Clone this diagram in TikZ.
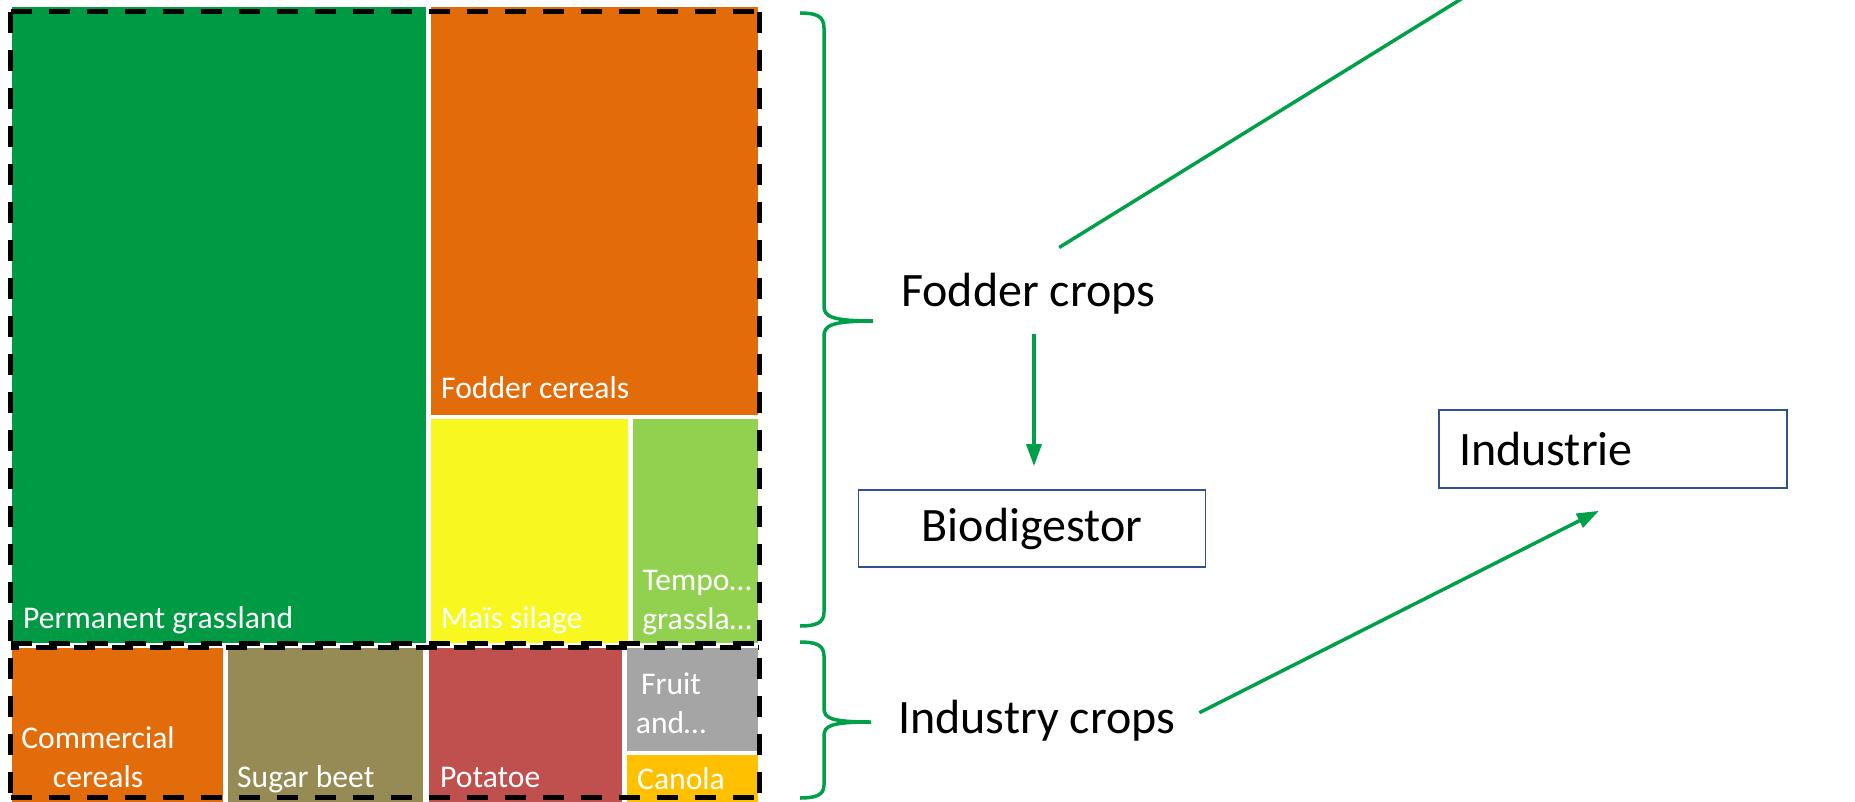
\documentclass[tikz,border=0pt]{standalone}
\usepackage{fontspec}
\setmainfont{Carlito}
\usetikzlibrary{arrows.meta}
\definecolor{cGrass}{RGB}{0,154,68}
\definecolor{cOrange}{RGB}{227,108,10}
\definecolor{cYellow}{RGB}{248,248,32}
\definecolor{cLight}{RGB}{146,208,80}
\definecolor{cOlive}{RGB}{150,139,85}
\definecolor{cRed}{RGB}{192,80,77}
\definecolor{cGrey}{RGB}{165,165,165}
\definecolor{cCanola}{RGB}{255,192,0}
\definecolor{cConn}{RGB}{0,160,72}
\definecolor{cBox}{RGB}{47,82,143}
\tikzset{
  celltext/.style={text=white, inner sep=0pt, font=\fontsize{31.6}{38.5}\selectfont, align=center},
  bigtext/.style={text=black, inner sep=0pt, font=\fontsize{48}{56}\selectfont},
  boxnode/.style={draw=cBox, line width=1.6pt, fill=white, inner sep=0pt, font=\fontsize{48}{56}\selectfont},
  dashline/.style={draw=black, line width=5pt, dash pattern=on 21pt off 17pt},
  conn/.style={draw=cConn, line width=3.5pt},
  arr/.style={conn, -{Triangle[length=22pt,width=15pt]}},
  brace/.style={draw=cConn, line width=3.5pt}
}
\begin{document}
\begin{tikzpicture}[x=1pt,y=-1pt]
\useasboundingbox (0,0) rectangle (1855,802);
\fill[white] (0,0) rectangle (1855,802);
\begin{scope}
\clip (0,0) rectangle (1855,802);
% cells
\fill[cGrass]  (12,7) rectangle (426,643);
\fill[cOrange] (431,7) rectangle (758,415);
\fill[cYellow] (431,419) rectangle (628,643);
\fill[cLight]  (633,419) rectangle (758,643);
\fill[cOrange] (12,648) rectangle (223,806);
\fill[cOlive]  (228,648) rectangle (423,806);
\fill[cRed]    (429,648) rectangle (622,806);
\fill[cGrey]   (627,648) rectangle (758,751);
\fill[cCanola] (627,755) rectangle (758,806);
% cell labels
\node[celltext, anchor=base west] (lperm) at (23,628) {Permanent grassland};
\node[celltext, anchor=base west] (lfc) at (441,398) {Fodder cereals};
\node[celltext, anchor=base west] (lmais) at (441,628) {Maïs silage};
\node[celltext, anchor=base] (ltempo) at (697,629) {Tempo…\\grassla…};
\node[celltext, anchor=base] (lcomm) at (98,787) {Commercial\\cereals};
\node[celltext, anchor=base west] (lsugar) at (237,787) {Sugar beet};
\node[celltext, anchor=base west] (lpot) at (440,787) {Potatoe};
\node[celltext, anchor=base] (lfruit) at (671,733) {Fruit\\and…};
\node[celltext, anchor=base west] (lcan) at (637,789) {Canola};
% dashed group boxes
\draw[dashline] (10.5,12) -- (759,12);
\draw[dashline] (10.5,12) -- (10.5,797);
\draw[dashline] (759,12) -- (759,797);
\draw[dashline] (10.5,797) -- (759,797);
\draw[dashline] (10.5,643) -- (759,643);
\draw[dashline, dash phase=13pt] (10.5,647) -- (759,647);
% braces
\draw[brace] (800,13) .. controls (816,13) and (824,16) .. (824,28) -- (824,306)
  .. controls (824,316) and (830,321) .. (873,321)
  .. controls (830,321) and (824,326) .. (824,336) -- (824,612)
  .. controls (824,623) and (816,626) .. (800,626);
\draw[brace] (800,642) .. controls (816,642) and (824,645) .. (824,656) -- (824,708)
  .. controls (824,718) and (830,722) .. (871,722)
  .. controls (830,722) and (824,726) .. (824,736) -- (824,785)
  .. controls (824,795) and (816,798) .. (800,798);
% text nodes
\node[bigtext, anchor=base west] (fodder) at (901,307) {Fodder crops};
\node[bigtext, anchor=base west] (industry) at (898,733) {Industry crops};
\node[boxnode, minimum width=347pt, minimum height=77pt] (bio) at (1032,528.5) {Biodigestor};
\node[boxnode, minimum width=348pt, minimum height=78pt, text width=308pt, align=left] (indus) at (1613,449) {Industrie};
\coordinate (up) at (1500,-25);
% connectors
\draw[conn] ([xshift=31pt,yshift=26pt]fodder.north) -- (up);
\draw[arr, shorten <=19pt, shorten >=23pt] ([xshift=2pt]fodder.south -| bio.north) -- ([xshift=2pt]bio.north);
\draw[arr] ([xshift=24pt,yshift=7.5pt]industry.east) -- ([xshift=-14pt,yshift=-22pt]indus.south);
\end{scope}
\end{tikzpicture}
\end{document}
